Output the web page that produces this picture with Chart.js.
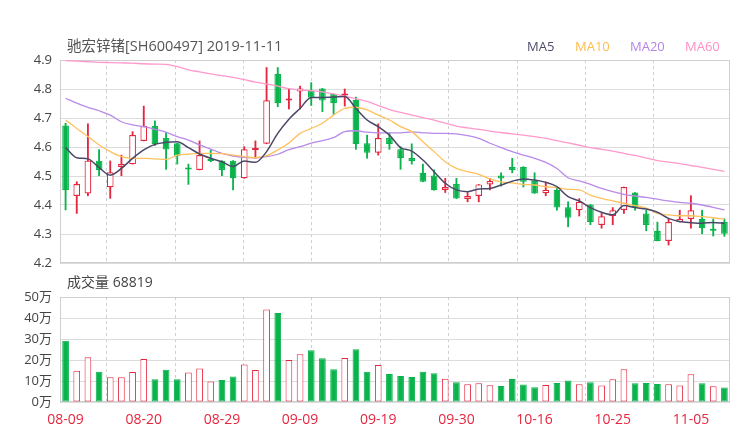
<!DOCTYPE html>
<html><head><meta charset="utf-8">
<script src="https://cdn.jsdelivr.net/npm/chart.js@4.4.0/dist/chart.umd.min.js"></script>
<style>
html,body{margin:0;padding:0;background:#fff;width:740px;height:440px;overflow:hidden;font-family:"Open Sans","Noto Sans CJK SC",sans-serif;}
#wrap{position:relative;width:740px;height:440px;}
canvas{position:absolute;left:0;}
#c1{top:0;}
#c2{top:270px;}
.t{position:absolute;white-space:nowrap;line-height:1;}
</style></head><body>
<div id="wrap">
<canvas id="c1" width="740" height="270"></canvas>
<canvas id="c2" width="740" height="170"></canvas>
<div class="t" style="left:67px;top:39px;font-size:14.5px;color:#555;">驰宏锌锗[SH600497] 2019-11-11</div>
<div class="t" style="left:527px;top:40px;font-size:13px;color:#4d4b6b;">MA5</div>
<div class="t" style="left:575px;top:40px;font-size:13px;color:#ffbb4d;">MA10</div>
<div class="t" style="left:630px;top:40px;font-size:13px;color:#b684e8;">MA20</div>
<div class="t" style="left:685px;top:40px;font-size:13px;color:#ff8fc6;">MA60</div>
<div class="t" style="left:67px;top:275px;font-size:14px;color:#444;">成交量 68819</div>
</div>
<script>
const dates = ['08-09','08-12','08-13','08-14','08-15','08-16','08-19','08-20','08-21','08-22',
'08-23','08-26','08-27','08-28','08-29','08-30','09-02','09-03','09-04','09-05',
'09-06','09-09','09-10','09-11','09-12','09-16','09-17','09-18','09-19','09-20',
'09-23','09-24','09-25','09-26','09-27','09-30','10-08','10-09','10-10','10-11',
'10-14','10-15','10-16','10-17','10-18','10-21','10-22','10-23','10-24','10-25',
'10-28','10-29','10-30','10-31','11-01','11-04','11-05','11-06','11-07','11-08'];
const xTickLabels = ['08-09','08-20','08-29','09-09','09-19','09-30','10-16','10-25','11-05'];

const open = [4.674,4.431,4.440,4.553,4.461,4.531,4.541,4.621,4.672,4.631,
4.613,4.522,4.521,4.552,4.553,4.553,4.492,4.590,4.611,4.852,
4.760,4.791,4.793,4.802,4.783,4.778,4.763,4.613,4.580,4.631,
4.592,4.562,4.511,4.502,4.452,4.472,4.421,4.431,4.471,4.502,
4.532,4.532,4.483,4.441,4.452,4.392,4.382,4.402,4.331,4.362,
4.383,4.443,4.371,4.311,4.276,4.341,4.352,4.352,4.311,4.341];
const close = [4.451,4.472,4.553,4.521,4.513,4.541,4.641,4.672,4.610,4.591,
4.570,4.522,4.572,4.552,4.521,4.492,4.592,4.594,4.761,4.751,
4.763,4.802,4.770,4.760,4.751,4.781,4.610,4.580,4.631,4.610,
4.561,4.551,4.480,4.451,4.462,4.422,4.431,4.471,4.483,4.491,
4.521,4.480,4.440,4.452,4.391,4.356,4.411,4.341,4.361,4.382,
4.462,4.392,4.331,4.276,4.341,4.352,4.382,4.320,4.311,4.301];
const high = [4.682,4.480,4.680,4.591,4.552,4.572,4.653,4.741,4.690,4.649,
4.613,4.541,4.621,4.590,4.553,4.553,4.601,4.621,4.874,4.874,
4.802,4.810,4.822,4.802,4.783,4.800,4.772,4.641,4.680,4.649,
4.601,4.611,4.541,4.521,4.492,4.492,4.443,4.471,4.492,4.511,
4.561,4.532,4.511,4.480,4.461,4.411,4.422,4.402,4.371,4.391,
4.462,4.443,4.382,4.341,4.352,4.382,4.432,4.382,4.352,4.352];
const low = [4.383,4.371,4.432,4.501,4.423,4.501,4.541,4.621,4.605,4.523,
4.541,4.471,4.521,4.549,4.501,4.452,4.492,4.561,4.611,4.739,
4.731,4.731,4.743,4.722,4.713,4.741,4.592,4.561,4.572,4.592,
4.523,4.541,4.480,4.451,4.443,4.422,4.411,4.411,4.452,4.465,
4.511,4.462,4.440,4.432,4.382,4.325,4.362,4.332,4.320,4.332,
4.371,4.382,4.311,4.276,4.262,4.341,4.320,4.301,4.293,4.292];

const ma5 = [4.598,4.563,4.559,4.529,4.503,4.526,4.561,4.590,4.609,4.616,
4.618,4.598,4.576,4.561,4.549,4.533,4.552,4.547,4.584,4.647,
4.696,4.733,4.771,4.771,4.772,4.774,4.733,4.693,4.670,4.641,
4.598,4.586,4.555,4.515,4.475,4.452,4.446,4.455,4.457,4.469,
4.482,4.490,4.486,4.478,4.463,4.429,4.414,4.391,4.375,4.366,
4.398,4.391,4.386,4.375,4.354,4.343,4.339,4.337,4.340,4.336];
const ma10 = [4.693,4.664,4.636,4.607,4.584,4.567,4.561,4.561,4.559,4.557,
4.572,4.575,4.578,4.578,4.577,4.572,4.567,4.563,4.570,4.590,
4.614,4.647,4.664,4.682,4.710,4.733,4.737,4.728,4.710,4.693,
4.670,4.653,4.618,4.584,4.549,4.526,4.515,4.506,4.490,4.480,
4.476,4.471,4.469,4.463,4.460,4.454,4.452,4.434,4.423,4.414,
4.406,4.398,4.389,4.371,4.366,4.363,4.363,4.360,4.356,4.351];
const ma20 = [4.768,4.751,4.737,4.725,4.710,4.687,4.676,4.670,4.661,4.651,
4.636,4.624,4.607,4.593,4.578,4.569,4.564,4.563,4.567,4.575,
4.591,4.601,4.613,4.622,4.632,4.653,4.656,4.651,4.649,4.649,
4.649,4.652,4.649,4.647,4.647,4.645,4.639,4.630,4.613,4.598,
4.584,4.572,4.561,4.547,4.526,4.494,4.483,4.471,4.457,4.446,
4.437,4.431,4.426,4.420,4.414,4.409,4.406,4.400,4.392,4.383];
const ma60 = [4.898,4.896,4.894,4.892,4.891,4.890,4.889,4.887,4.886,4.885,
4.877,4.866,4.859,4.852,4.846,4.840,4.832,4.824,4.817,4.810,
4.801,4.797,4.794,4.790,4.783,4.775,4.766,4.757,4.743,4.729,
4.719,4.710,4.701,4.693,4.682,4.672,4.666,4.661,4.655,4.650,
4.645,4.641,4.636,4.630,4.622,4.614,4.606,4.598,4.592,4.586,
4.578,4.571,4.562,4.553,4.548,4.543,4.536,4.530,4.523,4.516];

const volume = [29.2,14.9,21.3,14.4,11.8,11.8,14.3,20.5,10.8,15.4,
10.8,14.1,15.9,9.8,10.5,12.1,17.9,15.2,44.1,42.4,
20.0,22.7,24.6,20.8,15.6,21.0,25.1,14.4,17.6,13.3,
12.4,11.9,14.4,13.7,11.1,9.4,8.4,8.9,8.0,7.6,
11.0,8.3,7.0,8.1,9.0,10.2,8.4,9.4,7.8,10.8,
15.6,8.9,9.0,8.6,8.4,7.9,13.2,8.9,7.5,6.88];
const priceTicks = [4.2,4.3,4.4,4.5,4.6,4.7,4.8,4.9];
const volTicks = [0,10,20,30,40,50];

const RED = '#e5263f', GREEN = '#0ab34c';
const FONT = '"Open Sans","Noto Sans CJK SC",sans-serif';
const candleUp = close.map((c,i)=> c > open[i]);
const volUp = close.map((c,i)=> c >= open[i]);
const candleColor = candleUp.map(u=> u ? RED : GREEN);

// dashed vertical grid lines halfway between labelled dates
const labelIdx = xTickLabels.map(l=> dates.indexOf(l));
const gridIdx = labelIdx.slice(1).map((v,k)=> (v + labelIdx[k]) / 2);

const framePlugin = {
  id:'frame',
  beforeDatasetsDraw(chart){
    const a = chart.chartArea, c = chart.ctx;
    c.save(); c.strokeStyle = '#cfcfcf'; c.lineWidth = 1;
    c.strokeRect(Math.round(a.left)+0.5, Math.round(a.top)+0.5, Math.round(a.right-a.left)-1, Math.round(a.bottom-a.top)-1);
    c.restore();
  }
};

function gridAxis(){
  return {
    type:'linear', position:'top', min:-0.5, max:dates.length-0.5,
    afterBuildTicks: s => { s.ticks = gridIdx.map(v=>({value:v})); },
    ticks:{display:false},
    grid:{color:'#d0d0d0', drawTicks:false, lineWidth:1},
    border:{display:false, dash:[3,3]}
  };
}
const fitY = s => { s.width = 60; s.paddingTop = 0; s.paddingBottom = 0; };

Chart.defaults.font.family = FONT;
Chart.defaults.animation = false;

const lineDs = (label, data, color, w) => ({
  type:'line', label, data, borderColor:color, borderWidth:w, pointRadius:0,
  cubicInterpolationMode:'monotone', fill:false, order:0
});

new Chart(document.getElementById('c1'), {
  type:'bar',
  data:{
    labels: dates,
    datasets:[
      lineDs('MA5', ma5, '#4a4868', 1.5),
      lineDs('MA10', ma10, '#ffc15e', 1.3),
      lineDs('MA20', ma20, '#b98ae8', 1.3),
      lineDs('MA60', ma60, '#ff99cc', 1.3),
      { type:'bar', label:'body', order:1, grouped:false,
        data: open.map((o,i)=>[Math.min(o,close[i]), Math.max(o,close[i])]),
        backgroundColor: candleUp.map(u=> u ? '#ffffff' : GREEN),
        borderColor: candleColor, borderWidth:1.2, borderSkipped:false,
        barPercentage:0.6, categoryPercentage:1, minBarLength:2 },
      { type:'bar', label:'wick', order:2, grouped:false,
        data: low.map((l,i)=>[l, high[i]]),
        backgroundColor: candleColor, barThickness:1.2 }
    ]
  },
  options:{
    responsive:false, animation:false,
    layout:{padding:{top:60, bottom:7, left:0, right:10}},
    plugins:{legend:{display:false}, tooltip:{enabled:false}, title:{display:false}},
    scales:{
      x:{type:'category', offset:true, display:false, grid:{display:false}},
      xg: gridAxis(),
      y:{min:4.2, max:4.9,
        afterBuildTicks: s => { s.ticks = priceTicks.map(v=>({value:v})); },
        afterFit: fitY,
        ticks:{callback:v=> Number(v).toFixed(1), color:'#444', font:{size:13}, padding:8},
        grid:{color:'#dcdcdc', drawTicks:false},
        border:{color:'#cfcfcf'}}
    }
  },
  plugins:[framePlugin]
});

new Chart(document.getElementById('c2'), {
  type:'bar',
  data:{
    labels: dates,
    datasets:[
      { label:'成交量', data: volume,
        backgroundColor: volUp.map(u=> u ? '#ffffff' : GREEN),
        borderColor: volUp.map(u=> u ? RED : GREEN),
        borderWidth:1, borderSkipped:false,
        barPercentage:0.6, categoryPercentage:1 }
    ]
  },
  options:{
    responsive:false, animation:false,
    layout:{padding:{top:27, bottom:14, left:0, right:10}},
    plugins:{legend:{display:false}, tooltip:{enabled:false}},
    scales:{
      x:{type:'category', offset:true, position:'bottom',
        grid:{display:false, drawTicks:false}, border:{display:false},
        afterFit: s => { s.height = 24; },
        ticks:{autoSkip:false, maxRotation:0, minRotation:0, padding:10, color:RED, font:{size:14},
          callback:(v,i)=> xTickLabels.includes(dates[i]) ? dates[i] : null}},
      xg: gridAxis(),
      y:{min:0, max:50,
        afterBuildTicks: s => { s.ticks = volTicks.map(v=>({value:v})); },
        afterFit: fitY,
        ticks:{callback:v=> v + '万', color:'#444', font:{size:13}, padding:8},
        grid:{color:'#dcdcdc', drawTicks:false},
        border:{color:'#cfcfcf'}}
    }
  },
  plugins:[framePlugin]
});
</script>
</body></html>
